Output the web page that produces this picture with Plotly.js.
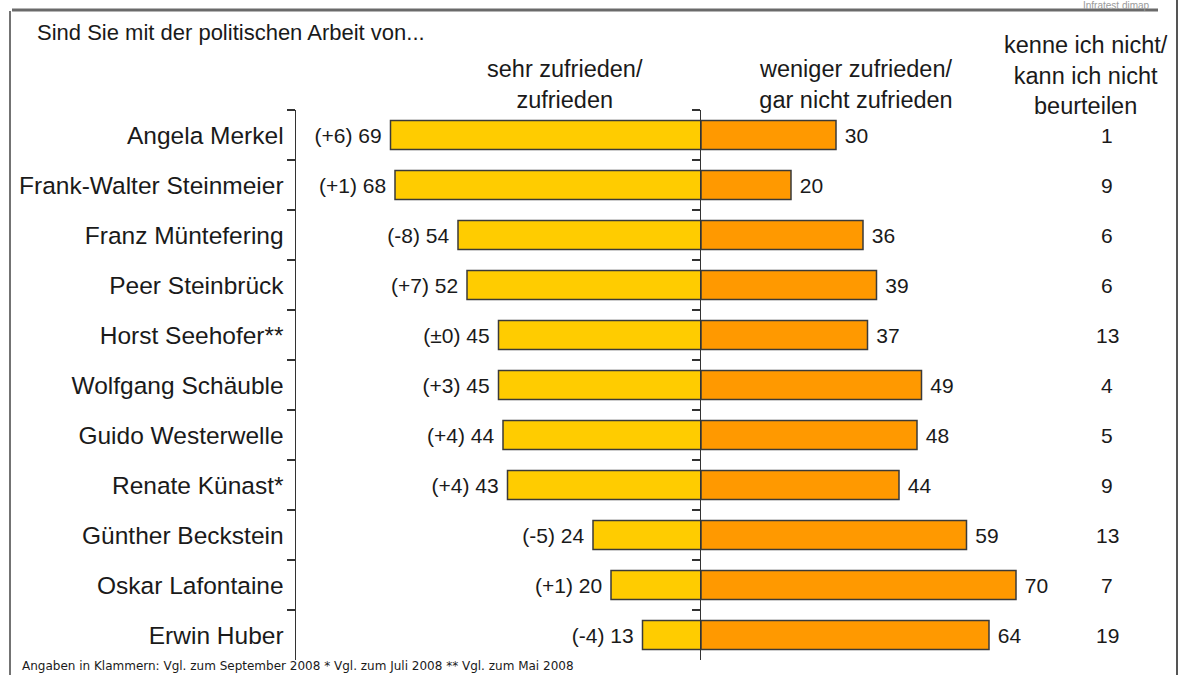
<!DOCTYPE html>
<html>
<head>
<meta charset="utf-8">
<script src="https://cdn.plot.ly/plotly-3.0.1.min.js"></script>
<style>
html,body{margin:0;padding:0;background:#fff;}
#chart{width:1200px;height:675px;}
</style>
</head>
<body>
<div id="chart"></div>
<script>
const politicians = ["Angela Merkel","Frank-Walter Steinmeier","Franz Müntefering","Peer Steinbrück","Horst Seehofer**","Wolfgang Schäuble","Guido Westerwelle","Renate Künast*","Günther Beckstein","Oskar Lafontaine","Erwin Huber"];
const satisfied = [69,68,54,52,45,45,44,43,24,20,13];
const changes = ["(+6)","(+1)","(-8)","(+7)","(±0)","(+3)","(+4)","(+4)","(-5)","(+1)","(-4)"];
const dissatisfied = [30,20,36,39,37,49,48,44,59,70,64];
const unknown = [1,9,6,6,13,4,5,9,13,7,19];

const W = 1200, H = 675;
const px = v => v / W;
const py = v => 1 - v / H;
const FONT = "Liberation Sans, Arial, sans-serif";
const INK = "#1a1a1a";
const NB = "\u00a0";

const yDomain = [py(660), py(110)];
const catRange = [politicians.length - 0.5, -0.5];

const leftBars = {
  type: "bar", orientation: "h",
  x: satisfied, y: politicians,
  xaxis: "x", yaxis: "y",
  width: 0.58,
  marker: {color: "#FFCC00", line: {color: "#3a3a3a", width: 1.5}},
  text: satisfied.map((v, i) => changes[i] + " " + v + NB),
  textposition: "outside",
  textfont: {family: FONT, size: 21, color: INK},
  cliponaxis: false,
  hoverinfo: "skip"
};
const rightBars = {
  type: "bar", orientation: "h",
  x: dissatisfied, y: politicians,
  xaxis: "x2", yaxis: "y2",
  width: 0.58,
  marker: {color: "#FF9900", line: {color: "#3a3a3a", width: 1.5}},
  text: dissatisfied.map(v => NB + v),
  textposition: "outside",
  textfont: {family: FONT, size: 21, color: INK},
  cliponaxis: false,
  hoverinfo: "skip"
};

const annotations = [];
unknown.forEach((v, i) => {
  annotations.push({
    xref: "paper", yref: "y", x: px(1107), y: politicians[i],
    text: String(v), showarrow: false, xanchor: "center", yanchor: "middle",
    font: {family: FONT, size: 21, color: INK}
  });
});
annotations.push(
  {xref: "paper", yref: "paper", x: px(35), y: py(32), xanchor: "left", yanchor: "middle",
   text: "Sind Sie mit der politischen Arbeit von...", showarrow: false,
   font: {family: FONT, size: 22, color: INK}},
  {xref: "paper", yref: "paper", x: px(565), y: py(84), xanchor: "center", yanchor: "middle",
   text: "sehr zufrieden/<br>zufrieden", showarrow: false,
   font: {family: FONT, size: 23.5, color: INK}},
  {xref: "paper", yref: "paper", x: px(856), y: py(84), xanchor: "center", yanchor: "middle",
   text: "weniger zufrieden/<br>gar nicht zufrieden", showarrow: false,
   font: {family: FONT, size: 23.5, color: INK}},
  {xref: "paper", yref: "paper", x: px(1086), y: py(75), xanchor: "center", yanchor: "middle",
   text: "kenne ich nicht/<br>kann ich nicht<br>beurteilen", showarrow: false,
   font: {family: FONT, size: 23.5, color: INK}},
  {xref: "paper", yref: "paper", x: px(1152), y: 1, xanchor: "right", yanchor: "top", yshift: 2,
   text: "Infratest dimap", showarrow: false,
   font: {family: FONT, size: 10, color: "#9a9a9a"}},
  {xref: "paper", yref: "paper", x: px(20), y: 0, xanchor: "left", yanchor: "bottom",
   text: "Angaben in Klammern: Vgl. zum September 2008 * Vgl. zum Juli 2008 ** Vgl. zum Mai 2008", showarrow: false,
   font: {family: "DejaVu Sans, sans-serif", size: 12, color: INK}}
);

const shapes = [
  {type: "line", xref: "paper", yref: "paper", x0: px(12), x1: px(1158), y0: py(10), y1: py(10),
   line: {color: "#6a6a6a", width: 3}},
  {type: "line", xref: "paper", yref: "paper", x0: px(10), x1: px(10), y0: py(11), y1: 0,
   line: {color: "#444", width: 1.5}},
  {type: "line", xref: "paper", yref: "paper", x0: px(1177), x1: px(1177), y0: 1, y1: 0,
   line: {color: "#555", width: 2}}
];

const yCommon = {
  type: "category", categoryorder: "array", categoryarray: politicians,
  range: catRange, domain: yDomain,
  showline: true, linecolor: "#333", linewidth: 1.5,
  ticks: "outside", ticklen: 8, tickwidth: 1.5, tickcolor: "#333",
  tickson: "boundaries", showgrid: false, zeroline: false, fixedrange: true
};

const layout = {
  width: W, height: H,
  margin: {l: 0, r: 0, t: 0, b: 0},
  paper_bgcolor: "#fff", plot_bgcolor: "rgba(0,0,0,0)",
  showlegend: false,
  bargap: 0.42,
  xaxis: {domain: [px(296), px(701)], range: [90, 0], visible: false, anchor: "y", fixedrange: true},
  xaxis2: {domain: [px(701), px(1177)], range: [0, 476 / 4.5], visible: false, anchor: "y2", fixedrange: true},
  yaxis: Object.assign({}, yCommon, {anchor: "x", showticklabels: true, ticklabelstandoff: 6,
    tickfont: {family: FONT, size: 24.5, color: INK}}),
  yaxis2: Object.assign({}, yCommon, {anchor: "x2", showticklabels: false}),
  annotations: annotations,
  shapes: shapes
};

Plotly.newPlot("chart", [leftBars, rightBars], layout, {staticPlot: true, displayModeBar: false});
</script>
</body>
</html>
